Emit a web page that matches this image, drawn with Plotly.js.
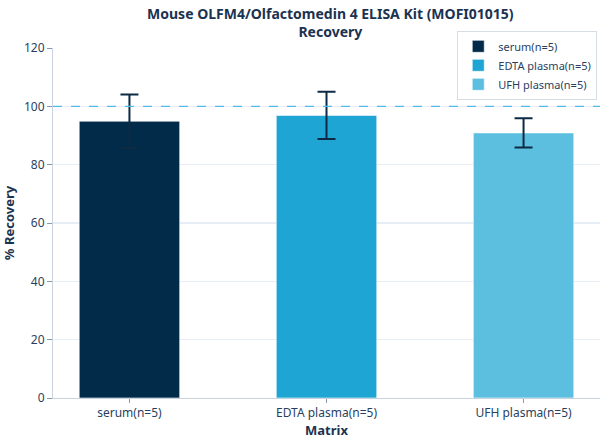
<!DOCTYPE html>
<html>
<head>
<meta charset="utf-8">
<script src="https://cdn.plot.ly/plotly-3.0.1.min.js"></script>
<style>html,body{margin:0;padding:0;background:#fff;}#chart{width:608px;height:444px;}</style>
</head>
<body>
<div id="chart"></div>
<script>
const categories = ["serum(n=5)", "EDTA plasma(n=5)", "UFH plasma(n=5)"];
const recovery = [94.9, 96.9, 90.9];
const errors = [9.2, 8.1, 5.0];
const colors = ["#022b4a", "#1fa5d3", "#5cbfe0"];
const yTicks = [0, 20, 40, 60, 80, 100, 120];
const referenceLine = 100;

const traces = categories.map((c, i) => ({
  type: "bar",
  name: c,
  x: [c],
  y: [recovery[i]],
  width: 0.51,
  marker: {color: colors[i], line: {color: "rgba(255,255,255,0.6)", width: 1}},
  error_y: {type: "data", array: [errors[i]], visible: true, color: "#0d2a45", thickness: 2, width: 9}
}));

const layout = {
  width: 608, height: 444,
  margin: {l: 53, r: 8, t: 48, b: 46},
  paper_bgcolor: "#fff", plot_bgcolor: "#fff",
  font: {family: "Noto Sans, sans-serif", size: 12, color: "#2a3f5f"},
  title: {text: "<b>Mouse OLFM4/Olfactomedin 4 ELISA Kit (MOFI01015)<br>Recovery</b>",
          x: 0.507, xref: "paper", y: 0.958, yref: "container", yanchor: "top",
          font: {size: 14, color: "#1b3250", family: "Noto Sans, sans-serif"}},
  barmode: "overlay",
  showlegend: true,
  legend: {x: 0.995, xanchor: "right", y: 0.852, yanchor: "bottom",
           bgcolor: "#fff", bordercolor: "#d5dde6", borderwidth: 1,
           font: {size: 11, color: "#2a3f5f"}, tracegroupgap: 0},
  xaxis: {type: "category", categoryorder: "array", categoryarray: categories,
          range: [-0.388, 2.388],
          showline: true, linecolor: "#c9d3de", linewidth: 1,
          ticks: "outside", ticklen: 4, tickcolor: "#8a99aa",
          showgrid: false, zeroline: false,
          tickfont: {size: 12, color: "#2a3f5f"},
          title: {text: "<b>Matrix</b>", font: {size: 13, color: "#1b3250"}, standoff: 2}},
  yaxis: {range: [0, 120], tickvals: yTicks, ticktext: yTicks.map(String),
          showline: true, linecolor: "#c9d3de", linewidth: 1,
          ticks: "outside", ticklen: 5, tickcolor: "#8a99aa",
          showgrid: true, gridcolor: "#e6edf4", gridwidth: 1.5, zeroline: false,
          tickfont: {size: 12, color: "#2a3f5f"},
          title: {text: "<b>% Recovery</b>", font: {size: 13, color: "#1b3250"}, standoff: 6}},
  shapes: [{type: "line", xref: "paper", x0: 0, x1: 1, yref: "y", y0: referenceLine, y1: referenceLine,
            line: {color: "#4fbde6", width: 1.2, dash: "dash"}, layer: "above"}]
};

Plotly.newPlot("chart", traces, layout, {displayModeBar: false, staticPlot: true});
</script>
</body>
</html>
